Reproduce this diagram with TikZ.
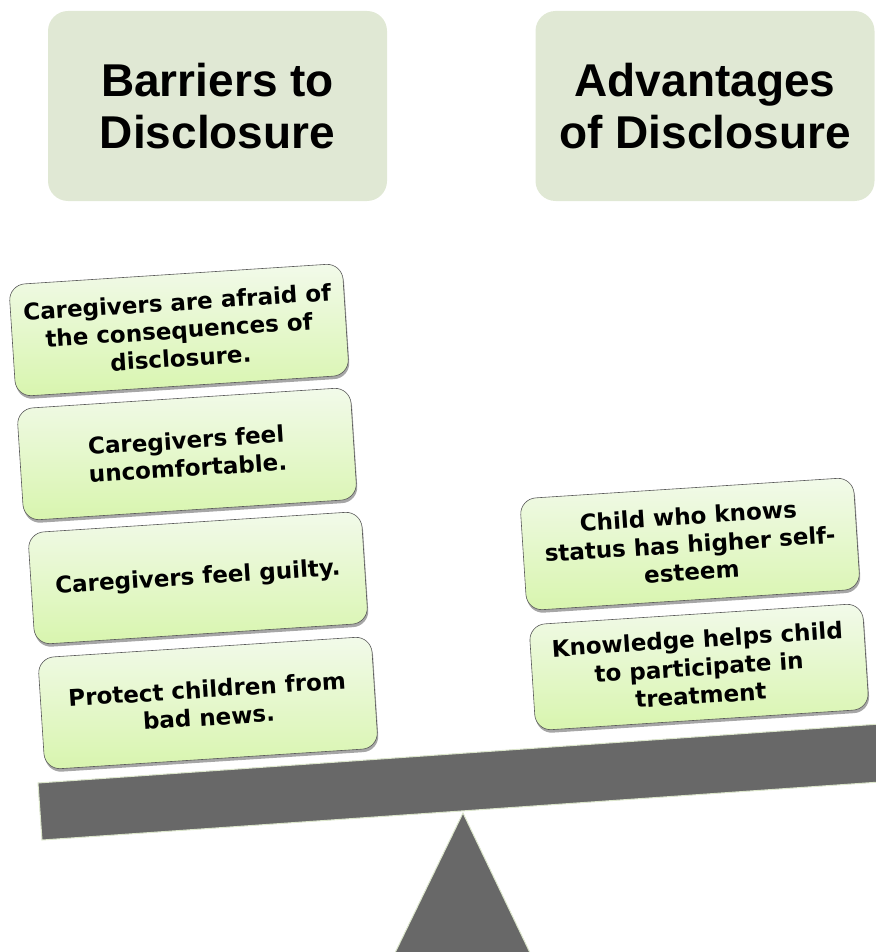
\documentclass[tikz,border=0pt]{standalone}
\usepackage{fontspec}
\setmainfont{Liberation Sans}
\newfontfamily\boxfont{DejaVu Sans}
\usetikzlibrary{shadows}
\definecolor{headfill}{HTML}{E0E8D4}
\definecolor{topgreen}{HTML}{F2FAEA}
\definecolor{botgreen}{HTML}{D8F5AE}
\definecolor{beamgray}{HTML}{686868}
\definecolor{edgegreen}{HTML}{DCE6CC}
\tikzset{
  headbox/.style={fill=headfill, rounded corners=20pt, minimum width=339pt, minimum height=190pt,
    align=center, font=\bfseries\fontsize{46}{52}\selectfont, inner sep=0pt},
  itembox/.style={draw=gray!70!black, line width=0.6pt, rounded corners=16pt,
    top color=topgreen, bottom color=botgreen, minimum width=334pt, minimum height=112pt,
    align=center, inner sep=0pt, rotate=3.7,
    font=\boxfont\bfseries\fontsize{23}{28}\selectfont,
    drop shadow={shadow xshift=1pt, shadow yshift=-3pt, opacity=0.35, fill=black}},
  heavy/.style={fill=beamgray, draw=edgegreen, line width=1pt}
}
\begin{document}
\begin{tikzpicture}[x=1pt,y=-1pt]
\useasboundingbox (0,0) rectangle (875,952);
% headers
\node[headbox] (h1) at (217.5,106) {Barriers to\\Disclosure};
\node[headbox] (h2) at (705,106) {Advantages\\of Disclosure};
% fulcrum and beam
\fill[heavy] (463,813) -- (532,957) -- (393,957) -- cycle;
\fill[heavy] (38,783) -- (880,724) -- (880,782) -- (42,840) -- cycle;
% left stack
\node[itembox] (b1) at (179,330) {Caregivers are afraid of\\the consequences of\\disclosure.};
\node[itembox] (b2) at (187,454) {Caregivers feel\\uncomfortable.};
\node[itembox] (b3) at (198,578) {Caregivers feel guilty.};
\node[itembox] (b4) at (208,703) {Protect children from\\bad news.};
% right stack
\node[itembox] (a1) at (690,544) {Child who knows\\status has higher self-\\esteem};
\node[itembox, minimum height=106pt] (a2) at (699,667) {Knowledge helps child\\to participate in\\treatment};
\end{tikzpicture}
\end{document}
